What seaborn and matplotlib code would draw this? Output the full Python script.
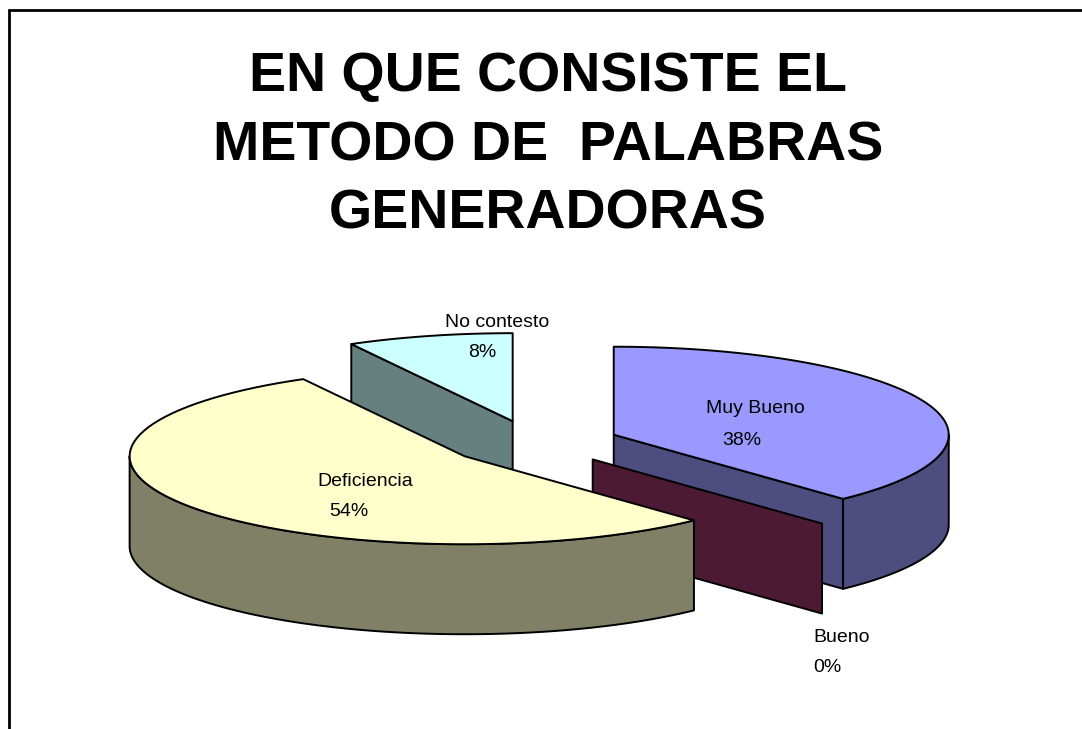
import numpy as np
import matplotlib
matplotlib.use("Agg")
import matplotlib.pyplot as plt
import seaborn as sns

# Data
categories = ["Muy Bueno", "Bueno", "Deficiencia", "No contesto"]
values = [38, 0, 54, 8]
top_colors = ["#9999FF", "#993366", "#FFFFCC", "#CCFFFF"]
title = "EN QUE CONSISTE EL\nMETODO DE  PALABRAS\nGENERADORAS"

# label anchors (name line, percent line) in pixel coords
name_pos = [(755, 408), (813, 638), (365, 481), (497, 322)]
pct_pos = [(742, 440), (813, 668), (349, 511), (482, 352)]
label_ha = ["center", "left", "center", "center"]

sns.set_theme(style="white")
plt.rcParams["font.family"] = ["Liberation Sans", "DejaVu Sans"]

# 3D pie geometry (pixels)
CX, CY = 534, 443
RX, RY = 335, 88
DEPTH = 90
EXPLODE = 0.256
draw_order = [3, 0, 1, 2]  # back to front

fig = plt.figure(figsize=(10.82, 7.29), dpi=100)
ax = fig.add_axes([0, 0, 1, 1])
ax.set_xlim(0, 1082)
ax.set_ylim(729, 0)
ax.axis("off")


def darker(c, f=0.5):
    r, g, b = matplotlib.colors.to_rgb(c)
    return (r * f, g * f, b * f)


def rim(cx, cy, t0, t1, dy=0, n=80):
    t = np.radians(np.linspace(t0, t1, n))
    return np.column_stack([cx + RX * np.sin(t), cy - RY * np.cos(t) + dy])


total = sum(values)
starts = np.concatenate([[0], np.cumsum(values)[:-1]]) / total * 360
ends = np.cumsum(values) / total * 360

edge = dict(edgecolor="black", linewidth=1.4, joinstyle="round")

for i in draw_order:
    a, b = starts[i], ends[i]
    mid = np.radians((a + b) / 2)
    cx = CX + EXPLODE * RX * np.sin(mid)
    cy = CY - EXPLODE * RY * np.cos(mid)
    side = darker(top_colors[i])

    # radial faces
    for t, visible in [(a, np.sin(np.radians(a)) < -1e-9), (b, np.sin(np.radians(b)) > 1e-9)]:
        if visible:
            p = rim(cx, cy, t, t, n=1)[0]
            quad = [(cx, cy), tuple(p), (p[0], p[1] + DEPTH), (cx, cy + DEPTH)]
            ax.add_patch(plt.Polygon(quad, facecolor=side, **edge))

    # outer wall, front half only
    lo, hi = max(a, 90), min(b, 270)
    if hi > lo:
        top = rim(cx, cy, lo, hi)
        bot = rim(cx, cy, lo, hi, dy=DEPTH)[::-1]
        ax.add_patch(plt.Polygon(np.vstack([top, bot]), facecolor=side, **edge))

    # top face
    if b > a:
        pts = np.vstack([[cx, cy], rim(cx, cy, a, b)])
        ax.add_patch(plt.Polygon(pts, facecolor=top_colors[i], **edge))

# data labels
for i, cat in enumerate(categories):
    ax.text(*name_pos[i], cat, ha=label_ha[i], va="center", fontsize=14, color="black")
    ax.text(*pct_pos[i], f"{values[i]}%", ha=label_ha[i], va="center", fontsize=14, color="black")

ax.text(548, 146, title, ha="center", va="center", fontsize=40, fontweight="bold",
        linespacing=1.42, color="black")

# chart frame (top and left edges visible)
ax.plot([9, 1082], [10, 10], color="black", lw=2)
ax.plot([9, 9], [10, 729], color="black", lw=2)

fig.savefig("out.png", dpi=100, facecolor="white")
